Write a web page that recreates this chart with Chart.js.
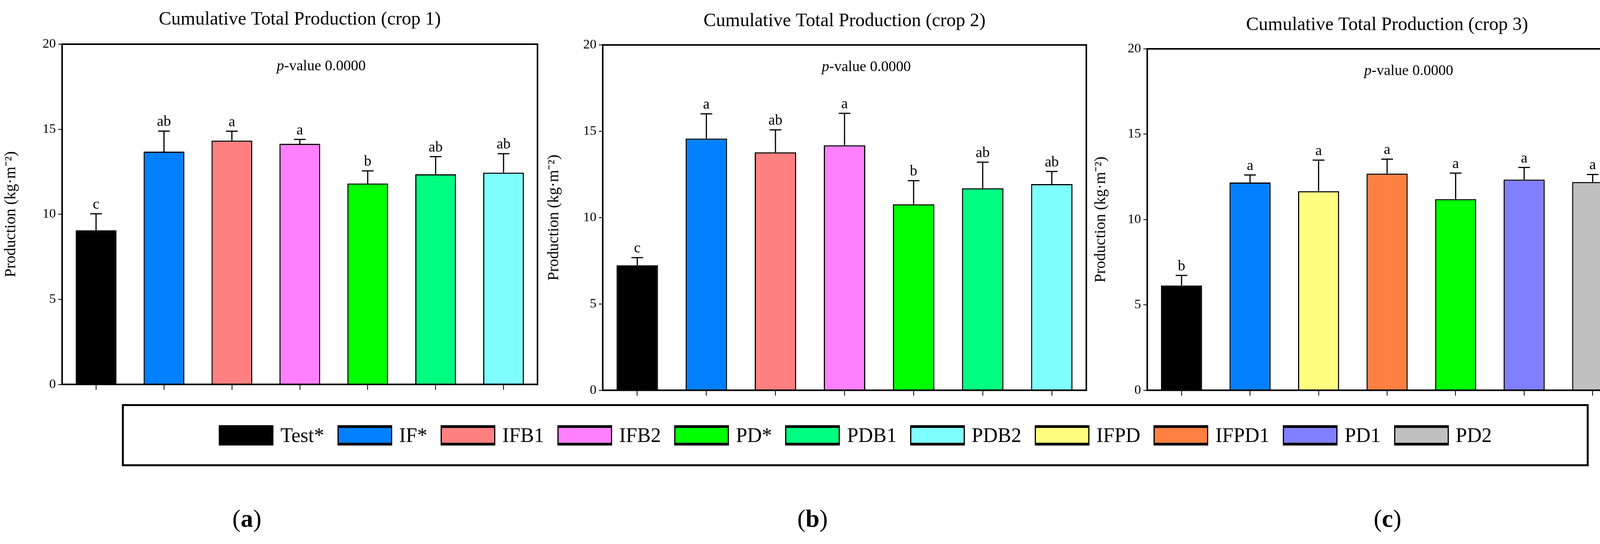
<!DOCTYPE html>
<html><head><meta charset="utf-8">
<script src="https://cdn.jsdelivr.net/npm/chart.js@4.4.1/dist/chart.umd.min.js"></script>
<style>
body{margin:0;width:4207px;height:1392px;background:#fff;position:relative;overflow:hidden;font-family:"Liberation Serif",serif;}
.c{position:absolute;}
#legend{position:absolute;left:312px;top:1034px;width:3755px;height:159px;border:5px solid #000;box-sizing:border-box;display:flex;align-items:center;justify-content:center;gap:0;}
.li{display:flex;align-items:center;margin:0 17px;font-size:52px;}
.sw{width:140px;height:52px;border:3px solid #000;border-top-width:7px;border-bottom-width:7px;box-sizing:border-box;margin-right:18px;}
.pl{position:absolute;top:1290px;font-size:64px;transform:translateX(-50%);}
</style></head><body>
<canvas id="c1" class="c" style="left:0;top:0"></canvas>
<canvas id="c2" class="c" style="left:1390px;top:0"></canvas>
<canvas id="c3" class="c" style="left:2790px;top:0"></canvas>
<div id="legend"></div>
<div class="pl" style="left:632px">(<b>a</b>)</div>
<div class="pl" style="left:2080px">(<b>b</b>)</div>
<div class="pl" style="left:3552px">(<b>c</b>)</div>
<script>
const legendNames=["Test*","IF*","IFB1","IFB2","PD*","PDB1","PDB2","IFPD","IFPD1","PD1","PD2"];
const legendColors=["#000000","#0080FF","#FF8080","#FF80FF","#00FF00","#00FF80","#80FFFF","#FFFF80","#FF8040","#8080FF","#C0C0C0"];
const titles=["Cumulative Total Production (crop 1)","Cumulative Total Production (crop 2)","Cumulative Total Production (crop 3)"];
const cats1=["Test*","IF*","IFB1","IFB2","PD*","PDB1","PDB2"];
const vals1=[9.06,13.68,14.33,14.14,11.81,12.35,12.45];
const errs1=[0.97,1.21,0.55,0.26,0.74,1.04,1.11];
const lets1=["c","ab","a","a","b","ab","ab"];
const cats2=["Test*","IF*","IFB1","IFB2","PD*","PDB1","PDB2"];
const vals2=[7.24,14.58,13.78,14.19,10.77,11.70,11.94];
const errs2=[0.44,1.43,1.30,1.85,1.37,1.51,0.73];
const lets2=["c","a","ab","a","b","ab","ab"];
const cats3=["Test*","IF*","IFPD","IFPD1","PD*","PD1","PD2"];
const vals3=[6.14,12.17,11.66,12.69,11.20,12.34,12.20];
const errs3=[0.59,0.44,1.82,0.85,1.52,0.71,0.44];
const lets3=["b","a","a","a","a","a","a"];
const yTicks=[0,5,10,15,20];
const pText="0.0000";

const lg=document.getElementById('legend');
legendNames.forEach((n,i)=>{const d=document.createElement('div');d.className='li';
d.innerHTML='<div class="sw" style="background:'+legendColors[i]+'"></div><span>'+n+'</span>';lg.appendChild(d);});

const F='"Liberation Serif", serif';
function make(id,cats,vals,errs,lets,title,w,h,L,R,T,B,titleY){
  const cv=document.getElementById(id);cv.width=w;cv.height=h;cv.style.width=w+'px';cv.style.height=h+'px';
  const colors=cats.map(c=>legendColors[legendNames.indexOf(c)]);
  const plug={id:'p'+id,afterDatasetsDraw(ch){
    const ctx=ch.ctx,a=ch.chartArea,y=ch.scales.y,m=ch.getDatasetMeta(0);
    ctx.save();ctx.strokeStyle='#000';ctx.lineWidth=4;ctx.strokeRect(a.left,a.top,a.right-a.left,a.bottom-a.top);
    ctx.lineWidth=3;ctx.fillStyle='#000';ctx.textAlign='center';ctx.textBaseline='bottom';ctx.font='38px '+F;
    m.data.forEach((b,i)=>{const yt=y.getPixelForValue(vals[i]+errs[i]);
      ctx.beginPath();ctx.moveTo(b.x,y.getPixelForValue(vals[i]));ctx.lineTo(b.x,yt);ctx.moveTo(b.x-15,yt);ctx.lineTo(b.x+15,yt);ctx.stroke();
      ctx.fillText(lets[i],b.x,yt-4);});
    ctx.font='48px '+F;ctx.textBaseline='middle';ctx.fillText(title,(a.left+a.right)/2,titleY);
    const px=a.left+(a.right-a.left)*0.545, py=y.getPixelForValue(18.7);
    ctx.font='italic 38px '+F;const pw=ctx.measureText('p').width;ctx.font='38px '+F;const rest='-value '+pText;const rw=ctx.measureText(rest).width;
    const sx=px-(pw+rw)/2;ctx.textAlign='left';ctx.font='italic 38px '+F;ctx.fillText('p',sx,py);ctx.font='38px '+F;ctx.fillText(rest,sx+pw,py);
    ctx.restore();}};
  new Chart(cv,{type:'bar',data:{labels:cats,datasets:[{data:vals,backgroundColor:colors,borderColor:'#000',borderWidth:3,borderSkipped:'bottom',categoryPercentage:1,barPercentage:0.6}]},
    options:{responsive:false,animation:false,layout:{padding:{top:T,right:R,left:0,bottom:0}},
      plugins:{legend:{display:false},tooltip:{enabled:false}},
      scales:{x:{grid:{display:true,offset:false,drawOnChartArea:false,drawTicks:true,tickLength:14,color:'#000',lineWidth:2},border:{display:false},ticks:{display:false},afterFit(s){s.height=B;}},
        y:{min:0,max:20,afterBuildTicks(s){s.ticks=yTicks.map(v=>({value:v}));},grid:{drawOnChartArea:false,tickLength:10,color:'#000',lineWidth:2},border:{display:false},
          ticks:{font:{family:F,size:34},color:'#000',padding:6},
          title:{display:true,text:'Production (kg·m⁻²)',font:{family:F,size:40},color:'#000',padding:{bottom:14}},afterFit(s){s.width=L;}}}},
    plugins:[plug]});
}
make('c1',cats1,vals1,errs1,lets1,titles[0],1400,1010,159,24,113,24,50);
make('c2',cats2,vals2,errs2,lets2,titles[1],1400,1025,153,9,115,20,54);
make('c3',cats3,vals3,errs3,lets3,titles[2],1417,1025,147,42,125,19,64);
</script></body></html>
